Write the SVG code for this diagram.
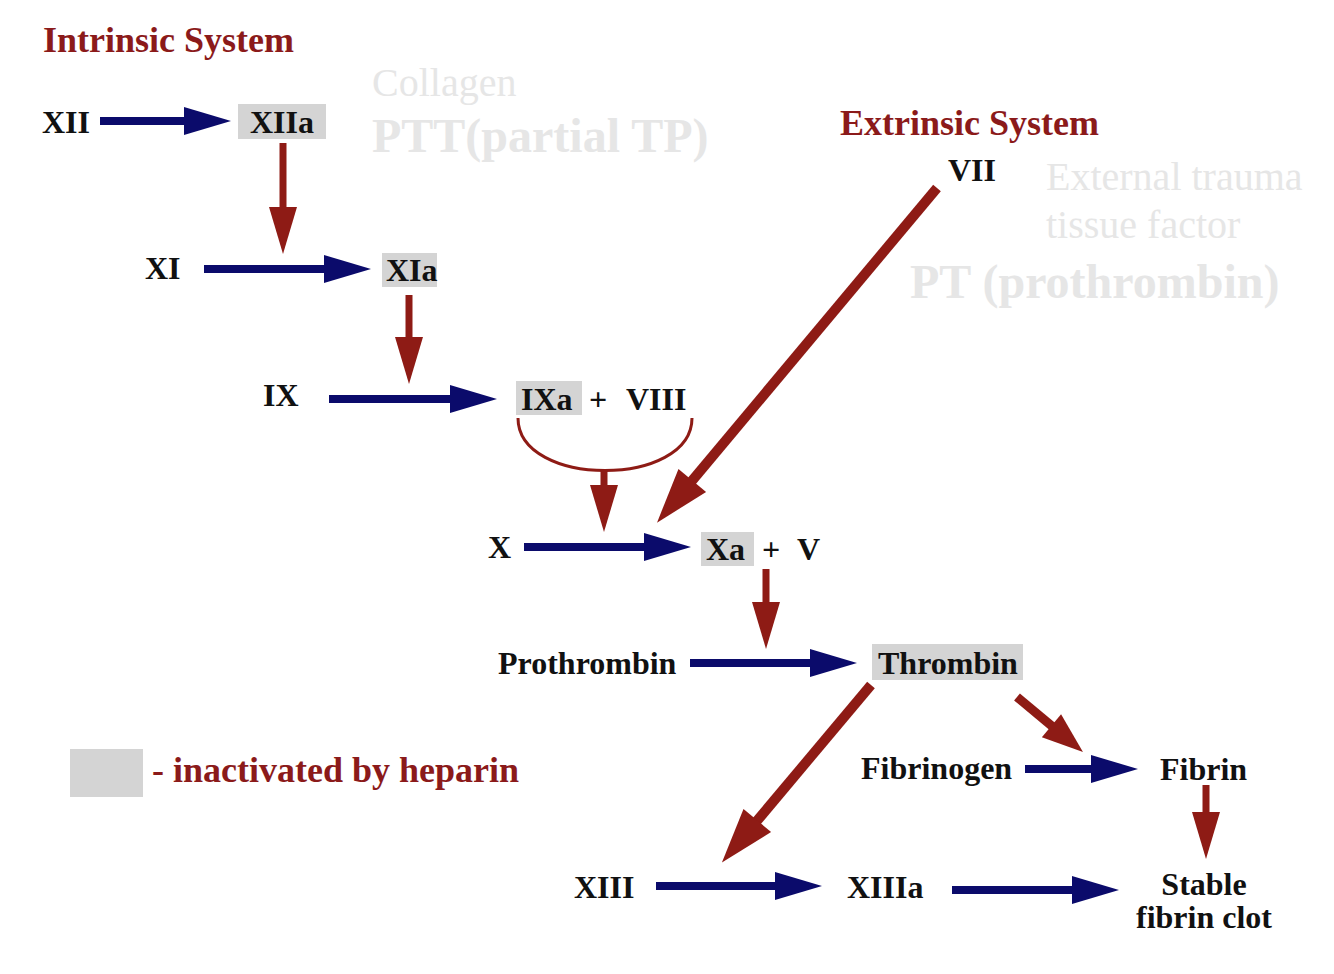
<svg xmlns="http://www.w3.org/2000/svg" width="1334" height="974" viewBox="0 0 1334 974">
<style>
text{font-family:"Liberation Serif","Times New Roman",serif;font-weight:bold}
.t{font-size:32px;fill:#111}
.title{font-size:36px;fill:#8b1a1a}
.ghost{fill:#e6e6e6;font-weight:normal;font-size:40px}
.ghostb{fill:#e6e6e6;font-size:48px}
.box{fill:#d4d4d4}
.blue{stroke:#0b0b6b;stroke-width:8;fill:none;marker-end:url(#bh)}
.red{stroke:#8e1b15;stroke-width:7;fill:none;marker-end:url(#rh)}
.redbig{stroke:#8e1b15;stroke-width:10;fill:none;marker-end:url(#rb)}
.redmed{stroke:#8e1b15;stroke-width:9;fill:none;marker-end:url(#rm)}
</style>
<defs>
<marker id="bh" markerUnits="userSpaceOnUse" markerWidth="48" markerHeight="28" refX="2" refY="14" orient="auto" overflow="visible"><path d="M0,0 L47,14 L0,28 z" fill="#0b0b6b"/></marker>
<marker id="rh" markerUnits="userSpaceOnUse" markerWidth="48" markerHeight="28" refX="2" refY="14" orient="auto" overflow="visible"><path d="M0,0 L47,14 L0,28 z" fill="#8e1b15"/></marker>
<marker id="rb" markerUnits="userSpaceOnUse" markerWidth="56" markerHeight="36" refX="2" refY="18" orient="auto" overflow="visible"><path d="M0,0 L55,18 L0,36 z" fill="#8e1b15"/></marker>
<marker id="rm" markerUnits="userSpaceOnUse" markerWidth="42" markerHeight="30" refX="2" refY="15" orient="auto" overflow="visible"><path d="M0,0 L41,15 L0,30 z" fill="#8e1b15"/></marker>
</defs>
<rect width="1334" height="974" fill="#fff"/>
<g id="labels">
<text class="title" x="43" y="52">Intrinsic System</text>
<text class="title" x="840" y="135">Extrinsic System</text>
<text class="ghost" x="372" y="96">Collagen</text>
<text class="ghostb" x="372" y="152">PTT(partial TP)</text>
<text class="ghost" x="1046" y="190">External trauma</text>
<text class="ghost" x="1046" y="238">tissue factor</text>
<text class="ghostb" x="910" y="298">PT (prothrombin)</text>
</g>
<g id="legend">
<rect class="box" x="70" y="749" width="73" height="48"/>
<text class="title" x="152" y="782">- inactivated by heparin</text>
</g>
<g id="n-XII"><text class="t" x="42" y="133">XII</text></g>
<g id="n-XIIa"><rect class="box" x="238" y="104" width="88" height="35"/><text class="t" x="250" y="133">XIIa</text></g>
<g id="n-XI"><text class="t" x="145" y="279">XI</text></g>
<g id="n-XIa"><rect class="box" x="382" y="253" width="55" height="34"/><text class="t" x="386" y="281">XIa</text></g>
<g id="n-IX"><text class="t" x="263" y="406">IX</text></g>
<g id="n-IXa"><rect class="box" x="516" y="381" width="66" height="34"/><text class="t" x="521" y="410">IXa</text><text class="t" x="589" y="410">+</text><text class="t" x="626" y="410">VIII</text></g>
<g id="n-VII"><text class="t" x="948" y="181">VII</text></g>
<g id="n-X"><text class="t" x="488" y="558">X</text></g>
<g id="n-Xa"><rect class="box" x="701" y="532" width="53" height="34"/><text class="t" x="706" y="560">Xa</text><text class="t" x="762" y="560">+</text><text class="t" x="797" y="560">V</text></g>
<g id="n-Prothrombin"><text class="t" x="498" y="674">Prothrombin</text></g>
<g id="n-Thrombin"><rect class="box" x="872" y="644" width="151" height="36"/><text class="t" x="878" y="674">Thrombin</text></g>
<g id="n-Fibrinogen"><text class="t" x="861" y="779">Fibrinogen</text></g>
<g id="n-Fibrin"><text class="t" x="1160" y="780">Fibrin</text></g>
<g id="n-XIII"><text class="t" x="574" y="898">XIII</text></g>
<g id="n-XIIIa"><text class="t" x="847" y="898">XIIIa</text></g>
<g id="n-Stable"><text class="t" x="1204" y="895" text-anchor="middle">Stable</text><text class="t" x="1204" y="928" text-anchor="middle">fibrin clot</text></g>
<g id="connectors">
<line class="blue" x1="100" y1="121" x2="186" y2="121"/>
<line class="red" x1="283" y1="143" x2="283" y2="209"/>
<line class="blue" x1="204" y1="269" x2="326" y2="269"/>
<line class="red" x1="409" y1="295" x2="409" y2="339"/>
<line class="blue" x1="329" y1="399" x2="452" y2="399"/>
<path d="M518,418 C518,488 692,488 692,418" fill="none" stroke="#8e1b15" stroke-width="3"/>
<line class="red" x1="604" y1="470" x2="604" y2="487"/>
<line class="redbig" x1="937" y1="188" x2="691" y2="482"/>
<line class="blue" x1="524" y1="547" x2="646" y2="547"/>
<line class="red" x1="766" y1="569" x2="766" y2="604"/>
<line class="blue" x1="690" y1="663" x2="812" y2="663"/>
<line class="redbig" x1="871" y1="685" x2="756" y2="822"/>
<line class="redmed" x1="1017" y1="697" x2="1053" y2="727"/>
<line class="blue" x1="1025" y1="769" x2="1093" y2="769"/>
<line class="red" x1="1206" y1="785" x2="1206" y2="814"/>
<line class="blue" x1="656" y1="886" x2="777" y2="886"/>
<line class="blue" x1="952" y1="890" x2="1074" y2="890"/>
</g>
</svg>
